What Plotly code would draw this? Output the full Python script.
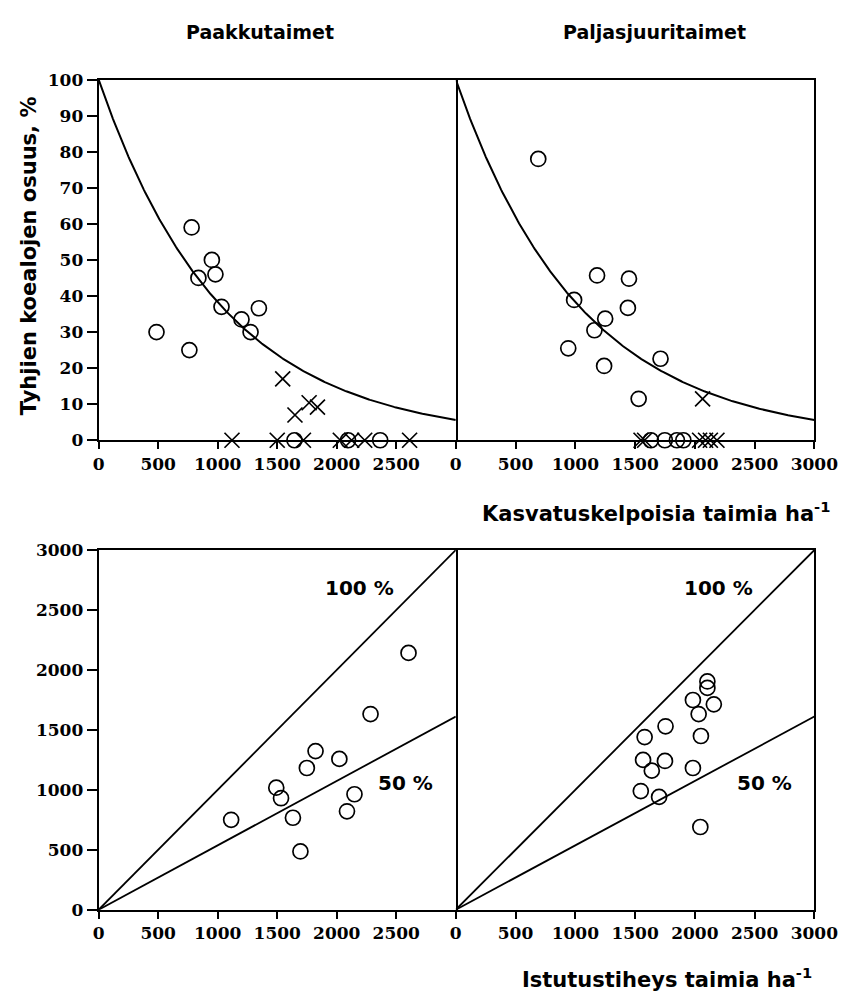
import numpy as np
import plotly.graph_objects as go

# ---------------- data ----------------
# Top-left (Paakkutaimet): viable seedlings/ha vs empty plots %
tl_circ_x = [486, 762, 781, 838, 951, 981, 1032, 1200, 1276, 1346, 1645, 2095, 2365]
tl_circ_y = [30, 25, 59, 45, 50, 46, 37, 33.5, 30, 36.6, 0, 0, 0]
tl_x_x = [1546, 1649, 1768, 1838, 1120, 1500, 1720, 2030, 2125, 2235, 2612]
tl_x_y = [17, 7, 10.4, 9.2, 0, 0, 0, 0, 0, 0, 0]

# Top-right (Paljasjuuritaimet)
tr_circ_x = [690, 941, 990, 1160, 1182, 1241, 1250, 1440, 1449, 1530, 1713, 1632, 1749, 1850, 1904]
tr_circ_y = [78, 25.5, 38.9, 30.5, 45.7, 20.6, 33.7, 36.7, 44.8, 11.5, 22.6, 0, 0, 0, 0]
tr_x_x = [2065, 1550, 1580, 2040, 2090, 2130, 2185]
tr_x_y = [11.5, 0, 0, 0, 0, 0, 0]

# Bottom-left: planting density vs viable seedlings
bl_x = [2284, 1822, 2022, 1749, 1492, 1532, 1113, 1632, 2149, 2086, 1695, 2603]
bl_y = [1632, 1323, 1258, 1182, 1018, 930, 750, 767, 963, 821, 486, 2142]

# Bottom-right
br_x = [2105, 2105, 1984, 2159, 2032, 1755, 1580, 2051, 1567, 1750, 1640, 1984, 1548, 1701, 2046]
br_y = [1904, 1850, 1749, 1713, 1632, 1530, 1440, 1449, 1250, 1241, 1160, 1182, 990, 941, 690]

# fitted model parameters
decay_k = 0.00096          # y = 100 * exp(-k x)
slope_100 = 1.0
slope_50 = 0.537

x_ticks_left = [0, 500, 1000, 1500, 2000, 2500]
x_ticks_right = [0, 500, 1000, 1500, 2000, 2500, 3000]
y_ticks_top = [0, 10, 20, 30, 40, 50, 60, 70, 80, 90, 100]
y_ticks_bottom = [0, 500, 1000, 1500, 2000, 2500, 3000]

titles = ["Paakkutaimet", "Paljasjuuritaimet"]
y_title = "Tyhjien koealojen osuus, %"
x_title_top = "Kasvatuskelpoisia taimia ha<sup>-1</sup>"
x_title_bottom = "Istutustiheys taimia ha<sup>-1</sup>"

# --------------- figure ---------------
W, H = 862, 1005
def fx(px): return px / W
def fy(py): return 1 - py / H

fig = go.Figure()

circ = dict(symbol="circle-open", size=15, color="black", line=dict(width=1.7, color="black"))
xmk = dict(symbol="x-thin-open", size=15, color="black", line=dict(width=1.7, color="black"))

curve_x = np.linspace(0, 3000, 301)
curve_y = 100 * np.exp(-decay_k * curve_x)

# top-left
fig.add_trace(go.Scatter(x=curve_x, y=curve_y, mode="lines", line=dict(color="black", width=2), xaxis="x", yaxis="y"))
fig.add_trace(go.Scatter(x=tl_circ_x, y=tl_circ_y, mode="markers", marker=circ, xaxis="x", yaxis="y", cliponaxis=False))
fig.add_trace(go.Scatter(x=tl_x_x, y=tl_x_y, mode="markers", marker=xmk, xaxis="x", yaxis="y", cliponaxis=False))
# top-right
fig.add_trace(go.Scatter(x=curve_x, y=curve_y, mode="lines", line=dict(color="black", width=2), xaxis="x2", yaxis="y2"))
fig.add_trace(go.Scatter(x=tr_circ_x, y=tr_circ_y, mode="markers", marker=circ, xaxis="x2", yaxis="y2", cliponaxis=False))
fig.add_trace(go.Scatter(x=tr_x_x, y=tr_x_y, mode="markers", marker=xmk, xaxis="x2", yaxis="y2", cliponaxis=False))
# bottom
line_x = [0, 3000]
for xa, ya, xs, ys in [("x3", "y3", bl_x, bl_y), ("x4", "y4", br_x, br_y)]:
    fig.add_trace(go.Scatter(x=line_x, y=[slope_100 * v for v in line_x], mode="lines",
                             line=dict(color="black", width=1.8), xaxis=xa, yaxis=ya))
    fig.add_trace(go.Scatter(x=line_x, y=[slope_50 * v for v in line_x], mode="lines",
                             line=dict(color="black", width=1.8), xaxis=xa, yaxis=ya))
    fig.add_trace(go.Scatter(x=xs, y=ys, mode="markers", marker=circ, xaxis=xa, yaxis=ya, cliponaxis=False))

tickfont = dict(family="DejaVu Serif", size=17, color="black", weight="bold")
dom_l = [fx(96), fx(466)]
dom_r = [fx(466), fx(837.5)]
dom_t = [fy(439), fy(71)]
dom_b = [fy(918), fy(551)]

def xax(domain, anchor, ticks):
    return dict(domain=domain, anchor=anchor, range=[0, 3000], tickmode="array", tickvals=ticks,
                ticks="outside", ticklen=7, tickwidth=1.5, tickcolor="black",
                showline=True, linewidth=2, linecolor="black", mirror=True,
                showgrid=False, zeroline=False, tickfont=tickfont)

def yax_left(domain, anchor, rng, ticks):
    return dict(domain=domain, anchor=anchor, range=rng, tickmode="array", tickvals=ticks,
                ticks="outside", ticklen=10, tickwidth=1.5, tickcolor="black",
                showline=True, linewidth=2, linecolor="black", mirror=True,
                showgrid=False, zeroline=False, tickfont=tickfont)

def yax_right(domain, anchor, rng):
    return dict(domain=domain, anchor=anchor, range=rng, side="right",
                ticks="", showticklabels=False,
                showline=True, linewidth=2, linecolor="black", mirror=False,
                showgrid=False, zeroline=False)

fig.update_layout(
    width=W, height=H, margin=dict(l=0, r=0, t=0, b=0),
    plot_bgcolor="white", paper_bgcolor="white", showlegend=False,
    xaxis=xax(dom_l, "y", x_ticks_left),
    yaxis=yax_left(dom_t, "x", [0, 100], y_ticks_top),
    xaxis2=xax(dom_r, "y2", x_ticks_right),
    yaxis2=yax_right(dom_t, "x2", [0, 100]),
    xaxis3=xax(dom_l, "y3", x_ticks_left),
    yaxis3=yax_left(dom_b, "x3", [0, 3000], y_ticks_bottom),
    xaxis4=xax(dom_r, "y4", x_ticks_right),
    yaxis4=yax_right(dom_b, "x4", [0, 3000]),
)

sans = dict(family="DejaVu Sans", color="black", weight="bold")
ann = []
ann.append(dict(text=titles[0], x=fx(263), y=fy(22), font=dict(size=19, **sans)))
ann.append(dict(text=titles[1], x=fx(672), y=fy(22), font=dict(size=19, **sans)))
ann.append(dict(text=y_title, x=fx(24), y=fy(251), textangle=-90, font=dict(size=21, **sans)))
ann.append(dict(text=x_title_top, x=fx(856), y=fy(512), xanchor="right", font=dict(size=21, **sans)))
ann.append(dict(text=x_title_bottom, x=fx(837), y=fy(988), xanchor="right", font=dict(size=21, **sans)))
for xa, ya in [("x3", "y3"), ("x4", "y4")]:
    ann.append(dict(text="100 %", x=2195, y=2682, xref=xa, yref=ya, font=dict(size=20, **sans)))
    ann.append(dict(text="50 %", x=2580, y=1061, xref=xa, yref=ya, font=dict(size=20, **sans)))
for a in ann:
    a.setdefault("xref", "paper")
    a.setdefault("yref", "paper")
    a.setdefault("xanchor", "center")
    a.update(showarrow=False, yanchor="middle")
fig.update_layout(annotations=ann)

fig.write_html("out.html", config={"displayModeBar": False},
               post_script="document.body.style.margin='0px';")
